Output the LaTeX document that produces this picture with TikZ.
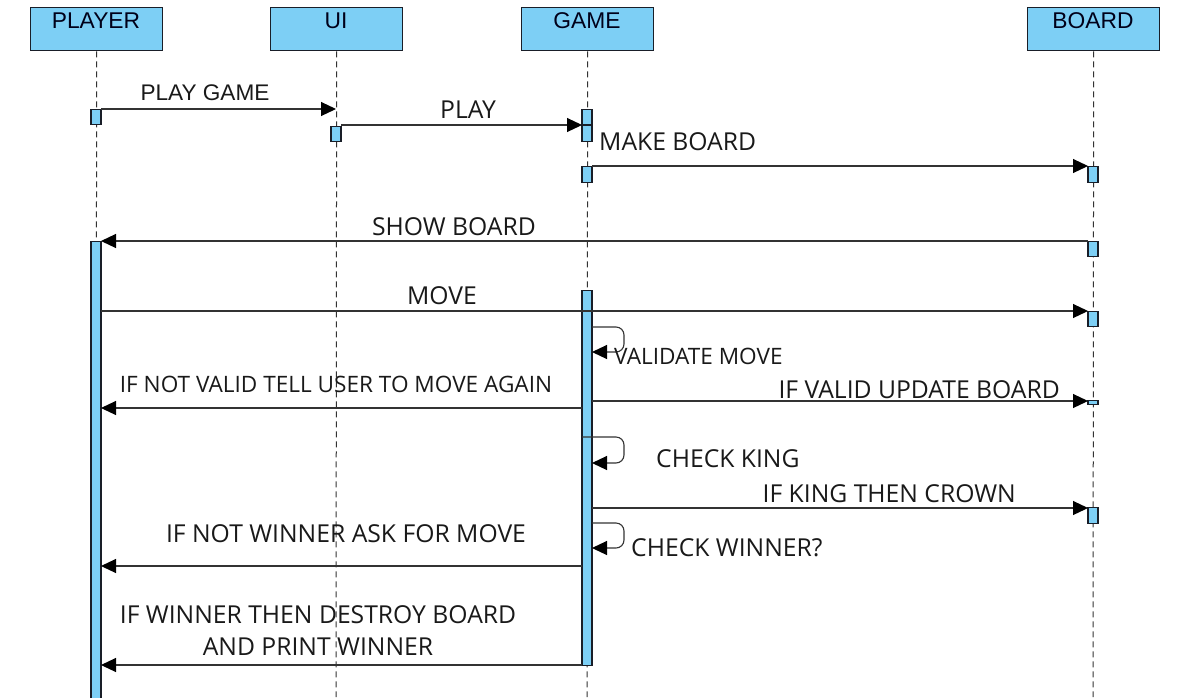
\documentclass[tikz,border=0pt]{standalone}
\usepackage{fontspec}
\setmainfont{Open Sans}
\newfontfamily\arialf{Liberation Sans}
\usetikzlibrary{arrows.meta}
\definecolor{actfill}{RGB}{125,207,245}
\definecolor{edgec}{RGB}{25,30,40}
\begin{document}
\begin{tikzpicture}[x=1pt,y=-1pt,
  hdr/.style={draw=edgec,fill=actfill,line width=1.3pt,minimum width=132pt,minimum height=43pt,inner sep=0pt,anchor=north west},
  hdrtext/.style={font=\arialf\fontsize{22.8}{26}\selectfont,inner sep=0pt,anchor=base,text=black!90!blue},
  act/.style={draw=edgec,fill=actfill,line width=1.1pt,minimum width=10pt,inner sep=0pt,anchor=north},
  life/.style={draw=black!80,line width=1pt,dash pattern=on 6pt off 4pt},
  msg/.style={draw=black!80,line width=1.1pt,-{Triangle[length=15pt,width=14pt,color=black]}},
  lbl/.style={font=\fontsize{24.7}{30}\selectfont,inner sep=0pt,text=black!90},
  lblS/.style={font=\fontsize{22.6}{30}\selectfont,inner sep=0pt,text=black!90},
  lblA/.style={font=\arialf\fontsize{22.6}{26}\selectfont,inner sep=0pt,text=black!90}]
\useasboundingbox (0,0) rectangle (1180,697);
% headers
\node[hdr] (player) at (30,7) {};
\node[hdr] (ui) at (270,7) {};
\node[hdr] (game) at (521,7) {};
\node[hdr] (board) at (1027,7) {};
\node[hdrtext] (tplayer) at (96,28) {PLAYER};
\node[hdrtext] (tui) at (336,28) {UI};
\node[hdrtext] (tgame) at (587,28) {GAME};
\node[hdrtext] (tboard) at (1093,28) {BOARD};
% lifeline ends
\coordinate (pEnd) at (96,697);
\coordinate (uEnd) at (336,697);
\coordinate (gEnd) at (587,697);
\coordinate (bEnd) at (1093,697);
\draw[life] (player.south) -- (pEnd);
\draw[life] (ui.south) -- (uEnd);
\draw[life] (game.south) -- (gEnd);
\draw[life] (board.south) -- (bEnd);
% activations
\node[act,minimum height=15pt] (pa1) at (96,109) {};
\node[act,minimum height=15pt] (ua1) at (336,126) {};
\node[act,minimum height=32pt] (ga1) at (587,109) {};
\node[act,minimum height=16pt] (ga2) at (587,166) {};
\node[act,minimum height=16pt] (ba1) at (1093,166) {};
\node[act,minimum height=15pt] (ba2) at (1093,241) {};
\node[act,minimum height=15pt] (ba3) at (1093,311) {};
\node[act,minimum height=4pt] (ba4) at (1093,400) {};
\node[act,minimum height=16pt] (ba5) at (1093,507) {};
\node[act,minimum height=465pt] (pa2) at (96,241) {};
\node[act,minimum height=375pt] (ga3) at (587,290) {};
\draw[edgec,line width=1.1pt] (582,125) -- (592,125);
% message points
\coordinate (m1a) at (101,109); \coordinate (m1b) at (336,109);
\coordinate (m2a) at (341,125); \coordinate (m2b) at (582,125);
\coordinate (m3a) at (592,166); \coordinate (m3b) at (1088,166);
\coordinate (m4a) at (1088,241); \coordinate (m4b) at (101,241);
\coordinate (m5a) at (101,311); \coordinate (m5b) at (1088,311);
\coordinate (m6a) at (582,408); \coordinate (m6b) at (101,408);
\coordinate (m7a) at (592,401); \coordinate (m7b) at (1088,401);
\coordinate (m8a) at (592,508); \coordinate (m8b) at (1088,508);
\coordinate (m9a) at (582,566); \coordinate (m9b) at (101,566);
\coordinate (m10a) at (582,665); \coordinate (m10b) at (101,665);
\draw[msg] (m1a) -- (m1b);
\draw[msg] (m2a) -- (m2b);
\draw[msg] (m3a) -- (m3b);
\draw[msg] (m4a) -- (m4b);
\draw[msg] (m5a) -- (m5b);
\draw[msg] (m6a) -- (m6b);
\draw[msg] (m7a) -- (m7b);
\draw[msg] (m8a) -- (m8b);
\draw[msg] (m9a) -- (m9b);
\draw[msg] (m10a) -- (m10b);
% self messages
\coordinate (s1a) at (592,327); \coordinate (s1b) at (592,352);
\coordinate (s2a) at (582,437); \coordinate (s2b) at (592,463);
\coordinate (s3a) at (592,523); \coordinate (s3b) at (592,548);
\draw[msg,rounded corners=8pt] (s1a) -- (624,327) -- (624,352) -- (s1b);
\draw[msg,rounded corners=8pt] (s2a) -- (624,437) -- (624,463) -- (s2b);
\draw[msg,rounded corners=8pt] (s3a) -- (624,523) -- (624,548) -- (s3b);
% labels
\node[lblA,anchor=base] (l1) at (205,100) {PLAY GAME};
\node[lbl,anchor=base] (l2) at (468,118) {PLAY};
\node[lbl,anchor=base west] (l3) at (599,150) {MAKE BOARD};
\node[lbl,anchor=base] (l4) at (454,235) {SHOW BOARD};
\node[lbl,anchor=base] (l5) at (442,304) {MOVE};
\node[lblS,anchor=base west] (l6) at (614,364) {VALIDATE MOVE};
\node[lblS,anchor=base] (l7) at (336,392) {IF NOT VALID TELL USER TO MOVE AGAIN};
\node[lbl,anchor=base east] (l8) at (1060,398) {IF VALID UPDATE BOARD};
\node[lbl,anchor=base west] (l9) at (656,467) {CHECK KING};
\node[lbl,anchor=base east] (l10) at (1016,502) {IF KING THEN CROWN};
\node[lbl,anchor=base west] (l11) at (631,556) {CHECK WINNER?};
\node[lbl,anchor=base] (l12) at (346,542) {IF NOT WINNER ASK FOR MOVE};
\node[lbl,anchor=base] (l13) at (318,623) {IF WINNER THEN DESTROY BOARD};
\node[lbl,anchor=base] (l14) at (318,655) {AND PRINT WINNER};
\end{tikzpicture}
\end{document}
